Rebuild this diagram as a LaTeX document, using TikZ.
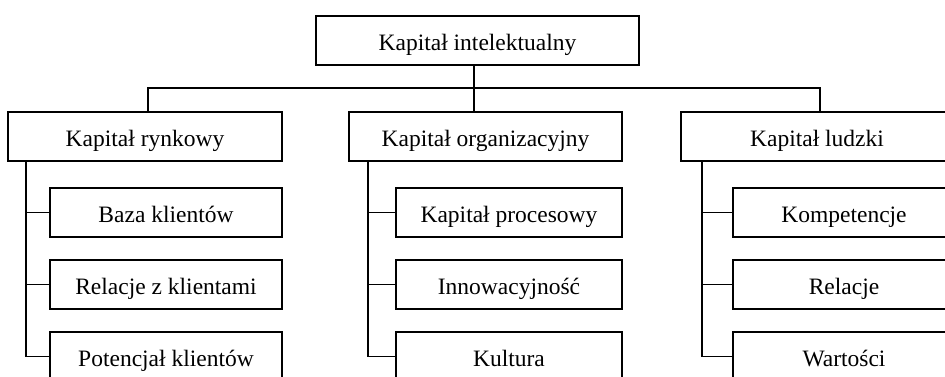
\documentclass[tikz,border=0pt]{standalone}
\usepackage{fontspec}
\setmainfont{Liberation Serif}
\begin{document}
\begin{tikzpicture}[x=1pt,y=-1pt,
  box/.style={draw,line width=1.5pt,inner sep=0pt,minimum height=49pt,text height=24pt,text depth=5pt,font=\fontsize{23.5}{28}\selectfont},
  conn/.style={line width=1.5pt}]
\useasboundingbox (0,0) rectangle (945,376);
\clip (0,0) rectangle (945,376);
\node[box,minimum width=323pt] (top) at (477.5,40.5) {Kapitał intelektualny};
\node[box,minimum width=274pt] (k1) at (145,136.5) {Kapitał rynkowy};
\node[box,minimum width=273pt] (k2) at (485.5,136.5) {Kapitał organizacyjny};
\node[box,minimum width=272pt] (k3) at (817,136.5) {Kapitał ludzki};
\node[box,minimum width=232pt] (c11) at (166,212.5) {Baza klientów};
\node[box,minimum width=232pt] (c12) at (166,284.5) {Relacje z klientami};
\node[box,minimum width=232pt] (c13) at (166,356.5) {Potencjał klientów};
\node[box,minimum width=226pt] (c21) at (509,212.5) {Kapitał procesowy};
\node[box,minimum width=226pt] (c22) at (509,284.5) {Innowacyjność};
\node[box,minimum width=226pt] (c23) at (509,356.5) {Kultura};
\node[box,minimum width=222pt] (c31) at (844,212.5) {Kompetencje};
\node[box,minimum width=222pt] (c32) at (844,284.5) {Relacje};
\node[box,minimum width=222pt] (c33) at (844,356.5) {Wartości};
\coordinate (b1) at (148,88);
\coordinate (b3) at (820,88);
\coordinate (t2) at (474,65);
\coordinate (v1) at (26,161);
\coordinate (v2) at (368,161);
\coordinate (v3) at (702,161);
\draw[conn] (b1 |- k1.north) -- (b1) -- (b3) -- (b3 |- k3.north);
\draw[conn] (t2) -- (t2 |- k2.north);
\draw[conn] (v1) |- (c13.west);
\draw[conn] (v1 |- c11.west) -- (c11.west);
\draw[conn] (v1 |- c12.west) -- (c12.west);
\draw[conn] (v2) |- (c23.west);
\draw[conn] (v2 |- c21.west) -- (c21.west);
\draw[conn] (v2 |- c22.west) -- (c22.west);
\draw[conn] (v3) |- (c33.west);
\draw[conn] (v3 |- c31.west) -- (c31.west);
\draw[conn] (v3 |- c32.west) -- (c32.west);
\end{tikzpicture}
\end{document}
